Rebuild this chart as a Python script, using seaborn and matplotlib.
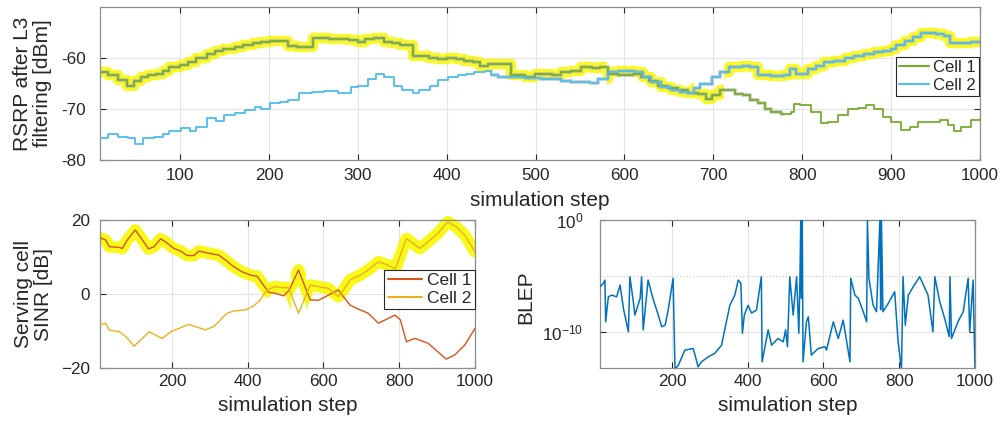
import numpy as np
import pandas as pd
import matplotlib
matplotlib.use("Agg")
import matplotlib.pyplot as plt
from matplotlib.patches import Rectangle
import seaborn as sns

# ---------------- L3-filtered RSRP, updated step-wise ----------------
rsrp1_step = [10, 19, 30, 40, 48, 56, 64, 73, 81, 88,
              100, 109, 118, 130, 139, 148, 162, 171, 182, 191,
              201, 222, 232, 250, 268, 278, 290, 300, 308, 318,
              330, 338, 348, 362, 380, 390, 400, 410, 420, 430,
              438, 446, 472, 488, 499, 518, 529, 540, 551, 563,
              572, 581, 593, 610, 619, 628, 638, 649, 660, 672,
              683, 692, 698, 707, 724, 733, 741, 750, 758, 765,
              776, 787, 791, 798, 810, 821, 829, 840, 851, 863,
              872, 881, 891, 900, 911, 921, 930, 955, 964, 971,
              979, 990, 1000]
rsrp1_dbm = [-62.8, -63.3, -64.4, -65.4, -64.6, -63.8, -63.3, -63.1, -62.5, -61.8,
             -61.4, -60.7, -59.9, -59.2, -58.6, -58.3, -57.9, -57.5, -57.1, -56.8,
             -56.6, -57.6, -57.8, -56.0, -56.2, -56.3, -56.5, -56.8, -56.3, -56.0,
             -56.8, -57.1, -57.5, -59.7, -59.9, -60.2, -59.9, -60.2, -60.5, -60.8,
             -61.5, -61.2, -63.4, -63.8, -63.1, -63.4, -62.8, -62.5, -61.8, -62.0,
             -61.8, -63.1, -63.3, -63.1, -63.8, -64.6, -65.4, -65.9, -66.3, -66.8,
             -67.0, -68.0, -67.3, -66.3, -67.0, -67.3, -68.3, -68.9, -69.9, -70.6,
             -70.9, -70.6, -69.1, -69.3, -70.6, -72.8, -72.5, -71.2, -69.9, -69.8,
             -69.3, -69.9, -71.5, -72.5, -74.1, -73.5, -72.5, -72.2, -73.1, -74.3,
             -73.5, -72.2, -71.9]

rsrp2_step = [10, 19, 30, 41, 49, 58, 71, 81, 88, 101,
              111, 118, 130, 141, 150, 162, 173, 184, 191, 201,
              212, 222, 234, 248, 262, 278, 292, 300, 311, 321,
              330, 341, 350, 362, 369, 381, 390, 401, 413, 422,
              431, 443, 450, 458, 488, 506, 529, 540, 561, 570,
              581, 593, 612, 621, 630, 641, 652, 663, 672, 678,
              685, 698, 708, 718, 732, 741, 750, 765, 780, 786,
              793, 806, 816, 825, 836, 848, 858, 869, 881, 891,
              900, 906, 916, 925, 934, 941, 951, 960, 966, 979,
              990, 1000]
rsrp2_dbm = [-75.7, -74.8, -75.4, -75.7, -76.9, -75.7, -75.4, -74.8, -74.3, -73.8,
             -74.3, -73.5, -71.8, -72.4, -71.2, -70.7, -70.2, -69.6, -70.0, -68.9,
             -68.6, -68.3, -66.9, -66.7, -66.5, -66.8, -65.7, -65.4, -64.2, -63.1,
             -63.8, -65.4, -66.3, -66.8, -66.3, -65.4, -64.4, -63.8, -63.4, -63.1,
             -62.8, -62.5, -63.4, -63.8, -64.0, -64.2, -64.6, -64.7, -64.8, -64.1,
             -62.8, -62.5, -62.8, -63.8, -64.7, -65.7, -66.3, -66.7, -66.8, -65.9,
             -65.0, -63.8, -62.8, -61.8, -61.5, -61.8, -63.4, -63.5, -63.3, -62.1,
             -63.1, -62.1, -61.5, -60.8, -60.5, -59.9, -59.6, -59.2, -58.9, -58.6,
             -58.3, -57.5, -56.6, -55.8, -55.1, -55.0, -55.3, -55.7, -57.1, -57.1,
             -56.8, -56.8]

# serving cell over time (yellow band)
rsrp_serving_start = [10, 580, 678, 712]
rsrp_serving_end = [580, 678, 712, 1000]
rsrp_serving_cell = [1, 2, 1, 2]
# cells under handover observation (gray band)
rsrp_marked_start = [10, 450]
rsrp_marked_end = [780, 1000]
rsrp_marked_cell = [1, 2]

# ---------------- SINR per cell ----------------
sinr1_step = [10, 25, 34, 61, 69, 82, 103, 122, 138, 153,
              170, 183, 205, 223, 240, 258, 271, 297, 324, 341,
              363, 385, 411, 425, 438, 455, 473, 495, 510, 534,
              565, 587, 613, 639, 670, 697, 718, 745, 771, 789,
              803, 819, 841, 876, 924, 946, 973, 1000]
sinr1_db = [15.2, 14.6, 12.8, 12.6, 12.3, 14.6, 17.3, 14.6, 12.2, 12.8,
            14.9, 14.1, 12.3, 11.6, 10.4, 10.4, 11.6, 11.0, 10.5, 9.2,
            7.4, 6.0, 5.0, 4.8, 2.9, 0.5, 0.2, -0.5, 1.1, 6.5,
            -1.6, -1.7, -0.3, 1.1, -3.0, -4.3, -5.2, -7.9, -6.6, -5.7,
            -7.0, -12.9, -12.0, -13.3, -17.6, -16.5, -13.8, -9.3]

sinr2_step = [10, 25, 34, 61, 78, 100, 122, 140, 153,
              174, 197, 218, 245, 262, 288, 310, 328, 345, 363,
              394, 416, 433, 451, 473, 491, 508, 534, 565, 587,
              613, 639, 653, 670, 697, 718, 745, 771, 790, 819,
              836, 854, 876, 902, 928, 950, 973, 1000]
sinr2_db = [-8.4, -7.9, -9.7, -10.2, -11.5, -14.1, -12.0, -10.2, -10.9,
            -12.0, -10.2, -9.3, -8.2, -8.8, -9.7, -8.8, -7.0, -5.2, -4.6,
            -4.3, -3.2, -1.6, 1.1, 2.0, 1.7, 1.7, -5.2, 2.4, 2.0,
            1.5, -0.7, 1.1, 3.8, 5.1, 6.5, 8.7, 7.8, 6.8, 15.0,
            13.7, 12.3, 14.1, 16.4, 19.5, 18.2, 15.9, 11.4]

sinr_serving_start = [10, 455, 515, 555]
sinr_serving_end = [455, 515, 555, 1000]
sinr_serving_cell = [1, 2, 1, 2]

# ---------------- block error probability (log10) ----------------
blep_step = [10, 19, 23, 25, 32, 41, 54, 63, 72, 85,
             89, 98, 102, 116, 120, 124, 137, 151, 164, 173,
             182, 190, 203, 208, 217, 234, 256, 261, 269, 278,
             296, 313, 331, 340, 353, 366, 375, 382, 386, 391,
             401, 410, 423, 436, 438, 454, 463, 480, 494, 500,
             505, 511, 520, 529, 535, 538, 540, 542, 544, 546,
             555, 560, 568, 586, 604, 608, 626, 639, 652, 670,
             672, 683, 692, 705, 714, 716, 720, 731, 740, 749,
             751, 753, 757, 771, 788, 797, 806, 810, 816, 824,
             837, 854, 876, 889, 894, 907, 920, 932, 934, 938,
             955, 969, 982, 986, 995, 1000]
blep_log10 = [-5.95, -5.65, -5.36, -9.08, -6.85, -6.7, -6.85, -5.8, -7.9, -9.97,
              -5.06, -7.3, -8.48, -6.99, -5.06, -9.8, -5.36, -7.14, -8.48, -9.52,
              -9.38, -8.04, -5.2, -13.3, -12.95, -11.6, -11.46, -12.05, -13.1, -12.65,
              -12.2, -11.9, -11.16, -9.67, -7.6, -6.7, -5.36, -5.65, -10.1, -8.48,
              -7.6, -8.3, -8.04, -5.06, -12.65, -9.8, -11.16, -10.57, -10.86, -9.8,
              -11.3, -5.06, -8.48, -5.06, -10.1, -5.06, 0.0, -6.99, 0.0, -12.65,
              -9.08, -8.63, -12.05, -11.46, -11.3, -11.6, -9.08, -10.57, -8.93, -12.65,
              -5.2, -6.7, -6.99, -8.18, -9.08, 0.0, -5.2, -7.6, -8.18, 0.0,
              -8.0, 0.0, -8.18, -7.44, -6.4, -10.86, -13.3, -5.06, -9.38, -6.7,
              -5.95, -5.06, -6.7, -9.97, -5.06, -7.3, -8.78, -10.4, -5.06, -10.57,
              -9.08, -8.18, -5.2, -9.97, -5.36, -13.3]
blep_reference = 1e-5

# ---------------- labels and ticks ----------------
cell_labels = ["Cell 1", "Cell 2"]
rsrp_xticks = [100, 200, 300, 400, 500, 600, 700, 800, 900, 1000]
rsrp_yticks = [-80, -70, -60]
rsrp_yticklabels = ["-80", "-70", "-60"]
bottom_xticks = [200, 400, 600, 800, 1000]
sinr_yticks = [-20, 0, 20]
sinr_yticklabels = ["\u221220", "0", "20"]
blep_yticks = [1e-10, 1e0]
blep_yticklabels = [r"$10^{-10}$", r"$10^{0}$"]

RSRP_COLORS = ["#77AC30", "#4DBEEE"]
SINR_COLORS = ["#D95319", "#EDB120"]
BLEP_COLOR = "#0072BD"
HALO_YELLOW = "#F8F800"
HALO_GRAY = "#B4B4B4"
TEXT = "#262626"

sns.set_theme(style="whitegrid")
plt.rcParams["font.family"] = ["Liberation Sans", "DejaVu Sans"]
plt.rcParams["mathtext.default"] = "regular"
plt.rcParams["axes.unicode_minus"] = False

fig = plt.figure(figsize=(10.04, 4.23), dpi=100)
fig.patch.set_facecolor("white")
ax_rsrp = fig.add_axes([0.0996, 0.6217, 0.8765, 0.3617])
ax_sinr = fig.add_axes([0.0996, 0.1300, 0.3735, 0.3499])
ax_blep = fig.add_axes([0.5976, 0.1300, 0.3735, 0.3499])


def draw(ax, x, y, color, lw, z, **kw):
    df = pd.DataFrame({"step": x, "value": y})
    sns.lineplot(data=df, x="step", y="value", ax=ax, color=color,
                 linewidth=lw, estimator=None, sort=False, zorder=z, **kw)
    return ax.lines[-1]


def clip_between(ax, artist, x0, x1):
    artist.set_clip_path(Rectangle((x0, -1e6), x1 - x0, 2e6,
                                   transform=ax.transData))


def style(ax, xpad, ypad):
    ax.set_facecolor("white")
    for s in ax.spines.values():
        s.set_visible(True)
        s.set_color("#8C8C8C")
        s.set_linewidth(0.9)
    ax.tick_params(direction="in", length=4, width=0.8, color=TEXT,
                   labelcolor=TEXT, labelsize=12.3,
                   top=True, right=True, bottom=True, left=True)
    ax.tick_params(axis="x", pad=xpad)
    ax.tick_params(axis="y", pad=ypad)
    ax.grid(True, color="#E4E4E4", linewidth=0.8)
    ax.set_axisbelow(True)


# ---------------- RSRP panel ----------------
rsrp_x = [rsrp1_step, rsrp2_step]
rsrp_y = [rsrp1_dbm, rsrp2_dbm]
for a, b, c in zip(rsrp_serving_start, rsrp_serving_end, rsrp_serving_cell):
    ln = draw(ax_rsrp, rsrp_x[c - 1], rsrp_y[c - 1], HALO_YELLOW, 7.5, 1,
              drawstyle="steps-post", alpha=0.85,
              solid_joinstyle="round", solid_capstyle="round")
    clip_between(ax_rsrp, ln, a, b)
for a, b, c in zip(rsrp_marked_start, rsrp_marked_end, rsrp_marked_cell):
    ln = draw(ax_rsrp, rsrp_x[c - 1], rsrp_y[c - 1], HALO_GRAY, 3.0, 2,
              drawstyle="steps-post", alpha=0.6,
              solid_joinstyle="round", solid_capstyle="round")
    clip_between(ax_rsrp, ln, a, b)
rsrp_lines = []
for i in range(2):
    rsrp_lines.append(draw(ax_rsrp, rsrp_x[i], rsrp_y[i], RSRP_COLORS[i],
                           1.3, 3, drawstyle="steps-post"))

style(ax_rsrp, 5.5, 10)
ax_rsrp.set_xlim(10, 1000)
ax_rsrp.set_ylim(-80, -50)
ax_rsrp.set_xticks(rsrp_xticks)
ax_rsrp.set_yticks(rsrp_yticks)
ax_rsrp.set_yticklabels(rsrp_yticklabels)
ax_rsrp.set_xlabel("simulation step", fontsize=15, color=TEXT, va="center")
ax_rsrp.xaxis.set_label_coords(0.5, -0.265)
ax_rsrp.set_ylabel("RSRP after L3\nfiltering [dBm]", fontsize=15, color=TEXT,
                   va="center", linespacing=1.05)
ax_rsrp.yaxis.set_label_coords(-0.077, 0.5)
leg = ax_rsrp.legend(rsrp_lines, cell_labels, loc="upper right",
                     bbox_to_anchor=(0.999, 0.675), fontsize=12,
                     frameon=True, fancybox=False, edgecolor="#262626",
                     framealpha=1, borderpad=0.2, labelspacing=0.15,
                     handlelength=1.8, handletextpad=0.25, borderaxespad=0)
leg.get_frame().set_linewidth(0.8)
for t in leg.get_texts():
    t.set_color(TEXT)
for h in leg.get_lines():
    h.set_linewidth(1.5)

# ---------------- SINR panel ----------------
sinr_x = [sinr1_step, sinr2_step]
sinr_y = [sinr1_db, sinr2_db]
for a, b, c in zip(sinr_serving_start, sinr_serving_end, sinr_serving_cell):
    ln = draw(ax_sinr, sinr_x[c - 1], sinr_y[c - 1], HALO_YELLOW, 8.5, 1,
              alpha=0.9, solid_joinstyle="round", solid_capstyle="round")
    clip_between(ax_sinr, ln, a, b)
sinr_lines = []
for i in range(2):
    sinr_lines.append(draw(ax_sinr, sinr_x[i], sinr_y[i], SINR_COLORS[i],
                           1.0, 3))

style(ax_sinr, 4, 7)
ax_sinr.set_xlim(10, 1000)
ax_sinr.set_ylim(-20, 20)
ax_sinr.set_xticks(bottom_xticks)
ax_sinr.set_yticks(sinr_yticks)
ax_sinr.set_yticklabels(sinr_yticklabels)
ax_sinr.set_xlabel("simulation step", fontsize=15, color=TEXT, va="center")
ax_sinr.xaxis.set_label_coords(0.5, -0.25)
ax_sinr.set_ylabel("Serving cell\nSINR [dB]", fontsize=15, color=TEXT,
                   va="center", linespacing=1.05)
ax_sinr.yaxis.set_label_coords(-0.178, 0.5)
leg2 = ax_sinr.legend(sinr_lines, cell_labels, loc="upper right",
                      bbox_to_anchor=(0.999, 0.665), fontsize=12.5,
                      frameon=True, fancybox=False, edgecolor="#262626",
                      framealpha=1, borderpad=0.2, labelspacing=0.15,
                      handlelength=2.0, handletextpad=0.25, borderaxespad=0)
leg2.get_frame().set_linewidth(0.8)
for t in leg2.get_texts():
    t.set_color(TEXT)
for h in leg2.get_lines():
    h.set_linewidth(1.5)

# ---------------- BLEP panel ----------------
blep = 10.0 ** np.asarray(blep_log10)
ax_blep.set_yscale("log")
draw(ax_blep, blep_step, blep, BLEP_COLOR, 1.1, 3)
ax_blep.axhline(blep_reference, color="#CFCFCF", linestyle=":",
                linewidth=0.9, zorder=0)

style(ax_blep, 4.5, 12)
ax_blep.set_xlim(10, 1000)
ax_blep.set_ylim(10 ** -13.2, 1.0)
ax_blep.set_xticks(bottom_xticks)
ax_blep.set_yticks(blep_yticks)
ax_blep.set_yticklabels(blep_yticklabels)
ax_blep.yaxis.set_minor_locator(matplotlib.ticker.NullLocator())
ax_blep.set_xlabel("simulation step", fontsize=15, color=TEXT, va="center")
ax_blep.xaxis.set_label_coords(0.5, -0.25)
ax_blep.set_ylabel("BLEP", fontsize=15, color=TEXT, va="center")
ax_blep.yaxis.set_label_coords(-0.197, 0.48)

fig.savefig("out.png", dpi=100, facecolor="white")
